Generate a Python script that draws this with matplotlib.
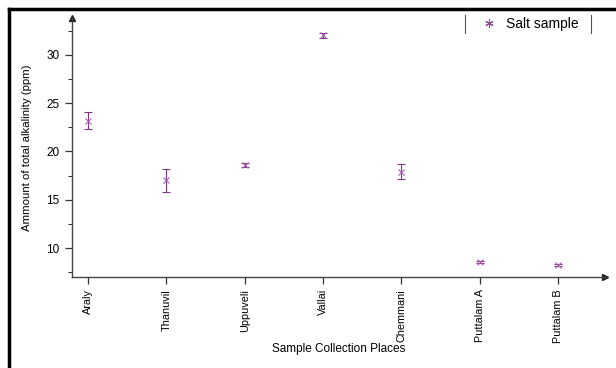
import matplotlib.pyplot as plt
from matplotlib.lines import Line2D

# data
places = ["Araly", "Thanuvil", "Uppuveli", "Vallai", "Chemmani", "Puttalam A", "Puttalam B"]
alkalinity = [23.2, 17.0, 18.6, 32.0, 17.9, 8.6, 8.3]
errors = [0.85, 1.2, 0.2, 0.3, 0.8, 0.1, 0.1]

plt.rcParams['font.family'] = ['Liberation Sans', 'DejaVu Sans']

fig = plt.figure(figsize=(6.16, 3.68), dpi=100)
ax = fig.add_axes([0.117, 0.247, 0.865, 0.704])

xs = list(range(1, len(places) + 1))
ax.errorbar(xs, alkalinity, yerr=errors, fmt='x', color='#a862b0', ecolor='#7a3a82',
            markersize=5, markeredgewidth=0.8, elinewidth=0.8, capsize=3, capthick=0.8)

ax.set_xlim(0.795, 7.6)
ax.set_ylim(7.0, 33.8)
ax.set_xticks(xs)
ax.set_xticklabels(places, rotation=90, fontsize=7.8)
ax.set_yticks([10, 15, 20, 25, 30])
ax.set_yticks([7.5, 12.5, 17.5, 22.5, 27.5, 32.5], minor=True)
ax.tick_params(axis='both', which='major', length=5, width=0.9, color='#333333')
ax.tick_params(axis='y', which='major', labelsize=8.5, pad=4)
ax.tick_params(axis='y', which='minor', length=3, width=0.8, color='#333333')

for s in ['top', 'right']:
    ax.spines[s].set_visible(False)
for s in ['left', 'bottom']:
    ax.spines[s].set_color('#444444')
    ax.spines[s].set_linewidth(1.0)

# axis arrows
ax.plot(1, 0, '>', color='#222222', markersize=4, transform=ax.transAxes, clip_on=False)
ax.plot(0, 1, '^', color='#222222', markersize=4, transform=ax.transAxes, clip_on=False)

ax.set_xlabel('Sample Collection Places', fontsize=8.5, labelpad=0)
ax.set_ylabel('Ammount of total alkalinity (ppm)', fontsize=8.2, labelpad=10)

handle = Line2D([], [], linestyle='none', marker=(6, 2, 0), markersize=6,
                markeredgewidth=0.8, color='#8a4a92')
ax.legend([handle], ['Salt sample'], loc='center left', bbox_to_anchor=(0.77, 0.977),
          frameon=False, fontsize=10, handletextpad=0.7, handlelength=1.0,
          borderaxespad=0, borderpad=0)

# legend side bars and image frame
fig.add_artist(Line2D([0.755, 0.755], [0.91, 0.96], color='#555555', lw=0.8))
fig.add_artist(Line2D([0.960, 0.960], [0.91, 0.96], color='#555555', lw=0.8))
fig.add_artist(Line2D([0.015, 0.015], [0.0, 0.975], color='black', lw=2.5))
fig.add_artist(Line2D([0.015, 1.0], [0.975, 0.975], color='black', lw=2.5))

fig.savefig('out.png', dpi=100)
